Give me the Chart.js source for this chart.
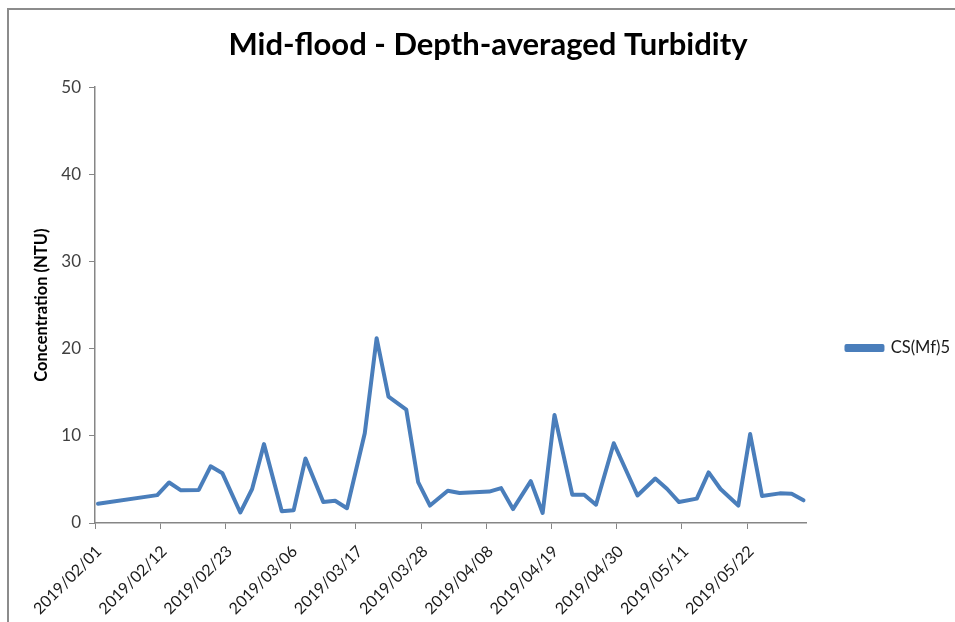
<!DOCTYPE html>
<html>
<head>
<meta charset="utf-8">
<script src="https://cdn.jsdelivr.net/npm/chart.js@4"></script>
<style>
  html, body { margin: 0; padding: 0; background: #fff; overflow: hidden; }
  #wrap { position: relative; width: 955px; height: 622px; }
  #frame {
    position: absolute; left: 7px; top: 8px; width: 1000px; height: 700px;
    border-left: 2px solid #8c8c8c; border-top: 2px solid #8c8c8c;
    pointer-events: none;
  }
</style>
</head>
<body>
<div id="wrap">
  <canvas id="chart" width="955" height="622"></canvas>
  <div id="frame"></div>
</div>
<script>
// Sample dates and depth-averaged turbidity (NTU)
const sampleDates = [
  '2019/02/01', '2019/02/11', '2019/02/13', '2019/02/15', '2019/02/18', '2019/02/20',
  '2019/02/22', '2019/02/25', '2019/02/27', '2019/03/01', '2019/03/04', '2019/03/06',
  '2019/03/08', '2019/03/11', '2019/03/13', '2019/03/15', '2019/03/18', '2019/03/20',
  '2019/03/22', '2019/03/25', '2019/03/27', '2019/03/29', '2019/04/01', '2019/04/03',
  '2019/04/08', '2019/04/10', '2019/04/12', '2019/04/15', '2019/04/17', '2019/04/19',
  '2019/04/22', '2019/04/24', '2019/04/26', '2019/04/29', '2019/05/03', '2019/05/06',
  '2019/05/08', '2019/05/10', '2019/05/13', '2019/05/15', '2019/05/17', '2019/05/20',
  '2019/05/22', '2019/05/24', '2019/05/27', '2019/05/29', '2019/05/31'
];
const turbidity = [
  2.2, 3.2, 4.65, 3.75, 3.8, 6.5,
  5.7, 1.2, 3.9, 9.05, 1.35, 1.45,
  7.4, 2.4, 2.55, 1.7, 10.3, 21.2,
  14.5, 13.0, 4.7, 2.0, 3.7, 3.45,
  3.6, 4.0, 1.6, 4.8, 1.15, 12.4,
  3.25, 3.25, 2.1, 9.15, 3.15, 5.1,
  3.9, 2.4, 2.8, 5.8, 3.9, 2.0,
  10.2, 3.1, 3.4, 3.35, 2.6
];
const seriesName = 'CS(Mf)5';
const axisStart = '2019/02/01';
const axisEnd = '2019/06/01';
const tickEveryDays = 11;
const yTicks = [0, 10, 20, 30, 40, 50];

const DAY = 86400000;
function toUtc(s) {
  const [y, m, d] = s.split('/').map(Number);
  return Date.UTC(y, m - 1, d);
}
const t0 = toUtc(axisStart);
const dayOf = s => (toUtc(s) - t0) / DAY;
function dateLabel(day) {
  const d = new Date(t0 + day * DAY);
  const mm = String(d.getUTCMonth() + 1).padStart(2, '0');
  const dd = String(d.getUTCDate()).padStart(2, '0');
  return d.getUTCFullYear() + '/' + mm + '/' + dd;
}

// Excel plots each date in the middle of its day slot
const points = sampleDates.map((s, i) => ({ x: dayOf(s) + 0.5, y: turbidity[i] }));

const FONT = "'Lato', 'Open Sans', 'Liberation Sans', sans-serif";
const axisColor = '#868686';

// push the legend down a bit, Excel centres it lower than Chart.js does
const legendShift = {
  id: 'legendShift',
  afterLayout(chart) {
    chart.legend.top += 37;
    chart.legend.bottom += 37;
  }
};

new Chart(document.getElementById('chart').getContext('2d'), {
  type: 'line',
  data: {
    datasets: [{
      label: seriesName,
      data: points,
      borderColor: '#4a7ebb',
      backgroundColor: '#4a7ebb',
      borderWidth: 4,
      pointRadius: 0,
      tension: 0,
      borderJoinStyle: 'round',
      borderCapStyle: 'round'
    }]
  },
  options: {
    responsive: false,
    animation: false,
    layout: { padding: { left: 16, right: -5, top: 0, bottom: 0 } },
    plugins: {
      title: {
        display: true,
        text: 'Mid-flood - Depth-averaged Turbidity',
        color: '#000',
        font: { family: FONT, size: 31, weight: 'bold' },
        padding: { top: 26, bottom: 24 }
      },
      legend: {
        display: true,
        position: 'right',
        labels: {
          color: '#1a1a1a',
          font: { family: FONT, size: 16.5 },
          boxWidth: 36,
          boxHeight: 4,
          padding: 40
        }
      },
      tooltip: { enabled: false }
    },
    scales: {
      x: {
        type: 'linear',
        min: 0,
        max: dayOf(axisEnd),
        afterBuildTicks: scale => {
          scale.ticks = scale.ticks.filter(t => t.value % tickEveryDays === 0 && t.value < scale.max);
        },
        afterFit: scale => { scale.height = 99; },
        ticks: {
          stepSize: tickEveryDays,
          autoSkip: false,
          maxRotation: 45,
          minRotation: 45,
          color: '#1a1a1a',
          font: { family: FONT, size: 16 },
          padding: 13,
          labelOffset: 4,
          callback: v => dateLabel(v)
        },
        grid: { drawOnChartArea: false, drawTicks: true, tickLength: 6, color: axisColor },
        border: { color: axisColor, width: 1.5 }
      },
      y: {
        min: 0,
        max: 50,
        afterBuildTicks: scale => {
          scale.ticks = yTicks.map(v => ({ value: v }));
        },
        afterFit: scale => { scale.width = 79; },
        ticks: {
          color: '#404040',
          font: { family: FONT, size: 17 },
          padding: 8
        },
        title: {
          display: true,
          text: 'Concentration (NTU)',
          color: '#000',
          font: { family: FONT, size: 16.5, weight: 'bold' },
          padding: { top: 16, bottom: 0 }
        },
        grid: { drawOnChartArea: false, drawTicks: true, tickLength: 6, color: axisColor },
        border: { color: axisColor, width: 1.5 }
      }
    }
  },
  plugins: [legendShift]
});
</script>
</body>
</html>
